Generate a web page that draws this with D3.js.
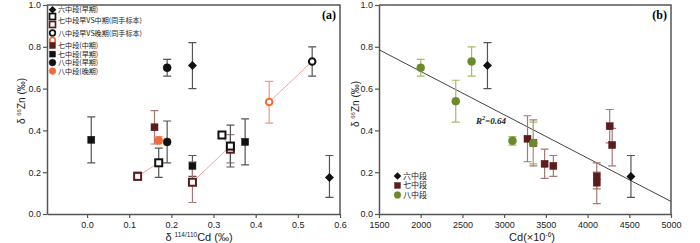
<!DOCTYPE html>
<html><head><meta charset="utf-8">
<script src="https://cdn.jsdelivr.net/npm/d3@7"></script>
<style>
body{margin:0;background:#fff;}
svg{display:block;font-family:"Liberation Sans",Arial,sans-serif;}
.cjk{font-family:"Noto Sans CJK SC","Liberation Sans",sans-serif;}
</style></head><body>
<svg id="c" width="700" height="243"></svg>
<script>
// ---------- Panel (a) data ----------
const aXTicks = [0.0, 0.1, 0.2, 0.3, 0.4, 0.5, 0.6];
const aYTicks = [0.0, 0.2, 0.4, 0.6, 0.8, 1.0];
const a6Early = [{x:0.25,y:0.71,lo:0.60,hi:0.82},{x:0.575,y:0.175,lo:0.08,hi:0.28}];
const a7Early = [{x:0.01,y:0.355,lo:0.245,hi:0.465},{x:0.25,y:0.23,lo:0.18,hi:0.28},{x:0.375,y:0.345,lo:0.235,hi:0.455}];
const a7Mid = [{x:0.16,y:0.415,lo:0.335,hi:0.495}];
const a8Early = [{x:0.19,y:0.70,lo:0.66,hi:0.74},{x:0.19,y:0.345,lo:0.245,hi:0.445}];
const a8Late = [{x:0.17,y:0.352,lo:0.335,hi:0.37}];
// paired samples 七中段早VS中期: early (black open square) vs middle (dark red open square)
const a7PairEarly = [{x:0.17,y:0.245,lo:0.175,hi:0.315},{x:0.34,y:0.325,lo:0.225,hi:0.425},{x:0.32,y:0.378,lo:null,hi:null}];
const a7PairMid = [{x:0.12,y:0.18,lo:0.165,hi:0.20},{x:0.25,y:0.152,lo:0.055,hi:0.25},{x:0.34,y:0.31,lo:0.245,hi:0.38}];
const a7PairLinks = [[0,0],[1,1],[2,2]];
// paired samples 八中段早VS晚期
const a8PairEarly = [{x:0.534,y:0.73,lo:0.66,hi:0.80}];
const a8PairLate = [{x:0.432,y:0.536,lo:0.435,hi:0.635}];
const aLegend = ["六中段(早期)","七中段早VS中期(同手标本)","八中段早VS晚期(同手标本)","七中段(中期)","七中段(早期)","八中段(早期)","八中段(晚期)"];

// ---------- Panel (b) data ----------
const bXTicks = [1500,2000,2500,3000,3500,4000,4500,5000];
const bYTicks = [0.0,0.2,0.4,0.6,0.8,1.0];
const b6 = [{x:2800,y:0.71,lo:0.60,hi:0.82},{x:4520,y:0.18,lo:0.08,hi:0.28}];
const b7 = [{x:3280,y:0.36,lo:0.25,hi:0.47},{x:3350,y:0.34,lo:0.23,hi:0.45},{x:3485,y:0.24,lo:0.17,hi:0.31},{x:3590,y:0.23,lo:0.18,hi:0.28},{x:4110,y:0.18,lo:0.12,hi:0.245},{x:4110,y:0.15,lo:0.05,hi:0.20},{x:4265,y:0.42,lo:0.34,hi:0.50},{x:4295,y:0.33,lo:0.23,hi:0.41}];
const b8 = [{x:2000,y:0.70,lo:0.66,hi:0.74},{x:2420,y:0.54,lo:0.44,hi:0.64},{x:2610,y:0.73,lo:0.66,hi:0.80},{x:3100,y:0.35,lo:0.33,hi:0.37},{x:3350,y:0.34,lo:0.24,hi:0.44}];
const bFit = [{x:1500,y:0.786},{x:5000,y:0.06}];
const bLegend = ["六中段","七中段","八中段"];

const C = {black:"#111", dred:"#5a1c1c", orange:"#f26a35", green:"#6b8a2e",
  errBlack:"#555", errRed:"#a87878", errOrange:"#f59a78", errGreen:"#a9b86a", link:"#f4a2a2", axis:"#555"};

const svg = d3.select("#c");

function axes(g, x, y, xt, yt, xfmt, label) {
  const [x0,x1] = x.range(), [y0,y1] = y.range();
  g.append("g").attr("transform",`translate(0,${y0})`)
    .call(d3.axisBottom(x).tickValues(xt).tickFormat(xfmt).tickSize(4).tickPadding(4).tickSizeOuter(0))
    .call(s=>{s.select(".domain").attr("stroke",C.axis).attr("stroke-width",1.5);
      s.selectAll(".tick line").attr("stroke",C.axis).attr("stroke-width",1.2);
      s.selectAll("text").attr("font-size",9).attr("fill","#222");});
  g.append("g").attr("transform",`translate(${x0},0)`)
    .call(d3.axisLeft(y).tickValues(yt).tickFormat(d3.format(".1f")).tickSize(4).tickPadding(2).tickSizeOuter(0))
    .call(s=>{s.select(".domain").attr("stroke",C.axis).attr("stroke-width",1.5);
      s.selectAll(".tick line").attr("stroke",C.axis).attr("stroke-width",1.2);
      s.selectAll("text").attr("font-size",9).attr("fill","#222");});
  g.append("path").attr("d",`M${x0},${y1}H${x1}V${y0}`).attr("fill","none").attr("stroke",C.axis).attr("stroke-width",1.5);
  g.append("text").attr("x",x1-4).attr("y",y1+14).attr("text-anchor","end")
    .attr("font-family","Liberation Serif,Times New Roman,serif").attr("font-weight","bold").attr("font-size",12).text(label);
}

function errbars(g, x, y, data, color) {
  const e = data.filter(d=>d.lo!=null);
  const gg = g.append("g").attr("stroke",color).attr("stroke-width",1.2).attr("fill","none");
  e.forEach(d=>{
    const cx = x(d.x), a = y(d.lo), b = y(d.hi);
    gg.append("path").attr("d",`M${cx},${a}V${b}M${cx-4},${a}H${cx+4}M${cx-4},${b}H${cx+4}`);
  });
}
function marker(g, type, cx, cy, color, open) {
  if (type==="square") {
    g.append("rect").attr("x",cx-3.5).attr("y",cy-3.5).attr("width",7).attr("height",7)
      .attr("fill",open?"#fff":color).attr("stroke",color).attr("stroke-width",open?2:0.5);
  } else if (type==="circle") {
    g.append("circle").attr("cx",cx).attr("cy",cy).attr("r",open?3.3:4)
      .attr("fill",open?"#fff":color).attr("stroke",color).attr("stroke-width",open?2:0.5);
  } else {
    g.append("path").attr("d",`M${cx},${cy-4.5}L${cx+4.5},${cy}L${cx},${cy+4.5}L${cx-4.5},${cy}Z`).attr("fill",color);
  }
}
function points(g, x, y, data, type, color, open) {
  data.forEach(d=>marker(g,type,x(d.x),y(d.y),color,open));
}
function znTitle(g, tx, ty, size) {
  const t = g.append("text").attr("transform",`translate(${tx},${ty}) rotate(-90)`).attr("text-anchor","middle").attr("font-size",size).attr("fill","#222");
  t.append("tspan").text("δ ");
  t.append("tspan").attr("font-size",size*0.6).attr("dy",-size*0.4).text("66");
  t.append("tspan").attr("dy",size*0.4).text("Zn (‰)");
}

// ---------- Panel (a) ----------
{
  const x = d3.scaleLinear().domain([-0.095,0.6]).range([47,340]);
  const y = d3.scaleLinear().domain([0,1]).range([214,5]);
  const g = svg.append("g");
  axes(g,x,y,aXTicks,aYTicks,d3.format(".1f"),"(a)");
  a7PairLinks.forEach(([i,j])=>{
    g.append("line").attr("x1",x(a7PairEarly[i].x)).attr("y1",y(a7PairEarly[i].y))
      .attr("x2",x(a7PairMid[j].x)).attr("y2",y(a7PairMid[j].y)).attr("stroke",C.link).attr("stroke-width",1);
  });
  g.append("line").attr("x1",x(a8PairEarly[0].x)).attr("y1",y(a8PairEarly[0].y))
    .attr("x2",x(a8PairLate[0].x)).attr("y2",y(a8PairLate[0].y)).attr("stroke",C.link).attr("stroke-width",1);
  errbars(g,x,y,a6Early,C.errBlack);
  errbars(g,x,y,a7Early,C.errBlack);
  errbars(g,x,y,a7Mid,C.errRed);
  errbars(g,x,y,a8Early,C.errBlack);
  errbars(g,x,y,a8Late,C.errOrange);
  errbars(g,x,y,a7PairMid,C.errRed);
  errbars(g,x,y,a7PairEarly,C.errBlack);
  errbars(g,x,y,a8PairEarly,C.errBlack);
  errbars(g,x,y,a8PairLate,C.errOrange);
  points(g,x,y,a6Early,"diamond",C.black);
  points(g,x,y,a7Early,"square",C.black);
  points(g,x,y,a7Mid,"square",C.dred);
  points(g,x,y,a8Early,"circle",C.black);
  points(g,x,y,a8Late,"circle",C.orange);
  points(g,x,y,a7PairMid,"square",C.dred,true);
  points(g,x,y,a7PairEarly,"square",C.black,true);
  points(g,x,y,a8PairEarly,"circle",C.black,true);
  points(g,x,y,a8PairLate,"circle",C.orange,true);
  // legend
  const L = g.append("g").attr("class","cjk");
  const mx = 52.5, tx = 58;
  const rows = [
    {m:[["diamond",C.black,false,9.7]], t:9.7, s:aLegend[0]},
    {m:[["square",C.black,true,16.5],["square",C.dred,true,24.5]], t:20.5, s:aLegend[1]},
    {m:[["circle",C.black,true,33],["circle",C.orange,true,40.3]], t:33.8, s:aLegend[2]},
    {m:[["square",C.dred,false,45.6]], t:45.6, s:aLegend[3]},
    {m:[["square",C.black,false,54.1]], t:54.1, s:aLegend[4]},
    {m:[["circle",C.black,false,62.6]], t:62.6, s:aLegend[5]},
    {m:[["circle",C.orange,false,71.1]], t:71.1, s:aLegend[6]}
  ];
  rows.forEach(r=>{
    r.m.forEach(([tp,col,op,yy])=>{
      const mg = L.append("g").attr("transform",`translate(${mx},${yy}) scale(0.85) translate(${-mx},${-yy})`);
      marker(mg,tp,mx,yy,col,op);
    });
    L.append("text").attr("x",tx).attr("y",r.t).attr("dy","0.35em").attr("font-size",7.1).attr("fill","#222").text(r.s);
  });
  znTitle(g, 25, 101, 10);
  const xt = g.append("text").attr("x",199).attr("y",241).attr("text-anchor","middle").attr("font-size",11).attr("fill","#222");
  xt.append("tspan").text("δ ");
  xt.append("tspan").attr("font-size",6.5).attr("dy",-4).text("114/110");
  xt.append("tspan").attr("dy",4).text("Cd (‰)");
}

// ---------- Panel (b) ----------
{
  const x = d3.scaleLinear().domain([1500,5000]).range([379,671]);
  const y = d3.scaleLinear().domain([0,1]).range([214,5]);
  const g = svg.append("g");
  axes(g,x,y,bXTicks,bYTicks,d3.format("d"),"(b)");
  g.append("line").attr("x1",x(bFit[0].x)).attr("y1",y(bFit[0].y)).attr("x2",x(bFit[1].x)).attr("y2",y(bFit[1].y))
    .attr("stroke","#444").attr("stroke-width",1);
  const r2 = g.append("text").attr("x",476).attr("y",124).attr("font-family","Liberation Serif,Times New Roman,serif")
    .attr("font-style","italic").attr("font-weight","bold").attr("font-size",9).attr("fill","#222");
  r2.append("tspan").text("R");
  r2.append("tspan").attr("font-size",6).attr("dy",-4).text("2");
  r2.append("tspan").attr("dy",4).text("=0.64");
  errbars(g,x,y,b6,C.errBlack);
  errbars(g,x,y,b7,C.errRed);
  errbars(g,x,y,b8,C.errGreen);
  points(g,x,y,b6,"diamond",C.black);
  points(g,x,y,b7,"square",C.dred);
  points(g,x,y,b8,"circle",C.green);
  const L = g.append("g").attr("class","cjk");
  const types = [["diamond",C.black],["square",C.dred],["circle",C.green]];
  const ly = [176,185.5,195];
  bLegend.forEach((s,i)=>{
    const mg = L.append("g").attr("transform",`translate(397.5,${ly[i]}) scale(0.85) translate(-397.5,${-ly[i]})`);
    marker(mg,types[i][0],397.5,ly[i],types[i][1],false);
    L.append("text").attr("x",403).attr("y",ly[i]).attr("dy","0.35em").attr("font-size",8).attr("fill","#222").text(s);
  });
  znTitle(g, 359, 104, 10);
  const xt = g.append("text").attr("x",532).attr("y",241).attr("text-anchor","middle").attr("font-size",11).attr("fill","#222");
  xt.append("tspan").text("Cd(×10");
  xt.append("tspan").attr("font-size",6.5).attr("dy",-4).text("-6");
  xt.append("tspan").attr("dy",4).text(")");
}
</script>
</body></html>
